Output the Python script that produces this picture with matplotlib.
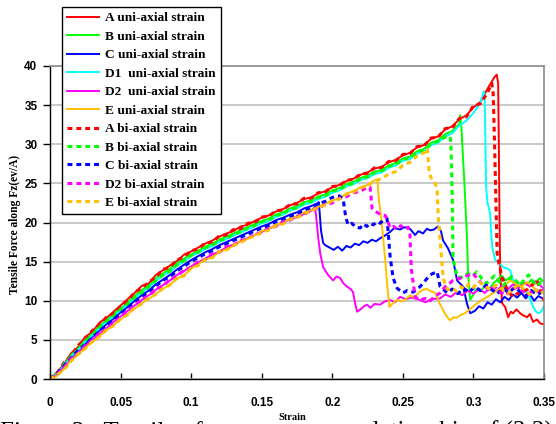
import numpy as np
import matplotlib
matplotlib.use('Agg')
import matplotlib.pyplot as plt

# Tensile force (eV/A) vs strain, (3,3) tubes A..E
# loading branch is sampled every 0.005 strain, the tail lists are (strain, force)
STRAIN_STEP = 0.005

A_UNI_RISE = [0.0, 0.9, 1.9, 3.3, 4.1, 5.4, 6.0, 7.2, 7.8, 8.6, 9.4, 10.2, 11.0, 11.9, 12.2, 13.3,
              13.9, 14.5, 15.1, 15.9, 16.3, 16.8, 17.3, 17.7, 18.2, 18.6, 18.9, 19.5, 19.7, 20.2,
              20.6, 20.9, 21.4, 21.7, 22.2, 22.5, 23.0, 23.2, 23.7, 24.0, 24.5, 24.8, 25.3, 25.6,
              26.1, 26.4, 26.9, 27.1, 27.7, 28.0, 28.6, 28.9, 29.6, 29.9, 30.7, 31.0, 31.9, 32.3,
              33.2, 33.7, 34.7, 35.4, 37.1, 38.6]
A_UNI_TAIL = [(0.3165, 38.9), (0.3175, 37.8), (0.318, 30.0), (0.3185, 20.0), (0.319, 13.5),
              (0.3203, 9.7), (0.3225, 9.2), (0.3246, 7.9), (0.3265, 8.6), (0.3281, 8.4),
              (0.3305, 8.9), (0.3331, 8.4), (0.3355, 8.1), (0.338, 7.9), (0.340, 8.3),
              (0.3423, 7.3), (0.345, 7.6), (0.3473, 7.1), (0.35, 7.0)]

B_UNI_RISE = [0.0, 0.8, 1.8, 3.1, 3.9, 5.0, 5.8, 6.8, 7.5, 8.3, 9.0, 9.8, 10.6, 11.4, 11.9, 12.9,
              13.5, 14.1, 14.8, 15.4, 15.9, 16.4, 16.9, 17.3, 17.8, 18.2, 18.6, 19.0, 19.4, 19.8,
              20.2, 20.5, 21.0, 21.3, 21.8, 22.1, 22.6, 22.8, 23.3, 23.6, 24.1, 24.4, 24.9, 25.2,
              25.7, 26.0, 26.5, 26.7, 27.3, 27.6, 28.2, 28.4, 29.1, 29.4, 30.2, 30.5, 31.3, 31.7,
              32.6]
B_UNI_TAIL = [(0.2906, 33.7), (0.2915, 32.2), (0.2927, 28.0), (0.2935, 25.4), (0.2955, 17.8),
              (0.2962, 13.5), (0.2977, 10.1), (0.300, 10.8), (0.302, 11.5), (0.305, 11.2),
              (0.308, 11.9), (0.311, 11.4), (0.314, 12.2), (0.317, 12.7), (0.320, 13.2),
              (0.323, 12.6), (0.326, 13.0), (0.329, 12.2), (0.332, 11.8), (0.335, 12.5),
              (0.338, 12.0), (0.341, 12.7), (0.344, 12.3), (0.347, 12.9), (0.35, 12.4)]

C_UNI_RISE = [0.0, 0.6, 1.8, 2.8, 3.6, 4.5, 5.4, 6.2, 7.0, 7.7, 8.5, 9.2, 10.0, 10.7, 11.3, 12.1,
              12.7, 13.3, 14.0, 14.6, 15.2, 15.7, 16.2, 16.6, 17.1, 17.5, 17.9, 18.3, 18.7, 19.1,
              19.5, 19.8, 20.3, 20.6, 21.0, 21.3, 21.8, 22.1, 22.5]
C_UNI_TAIL = [(0.1905, 22.6), (0.192, 19.0), (0.1935, 17.4), (0.195, 17.1), (0.198, 16.8),
              (0.201, 16.5), (0.204, 16.9), (0.207, 16.4), (0.210, 17.0), (0.213, 16.8),
              (0.216, 17.3), (0.219, 17.1), (0.222, 17.6), (0.225, 17.4), (0.228, 17.8),
              (0.231, 17.6), (0.234, 18.0), (0.237, 18.3), (0.241, 18.8), (0.244, 19.3),
              (0.248, 19.1), (0.251, 19.4), (0.255, 19.2), (0.2587, 18.4), (0.261, 18.9),
              (0.2643, 18.6), (0.267, 19.2), (0.2693, 19.0), (0.272, 19.1), (0.275, 19.5),
              (0.277, 18.9), (0.2785, 17.7), (0.282, 16.7), (0.2856, 15.2), (0.287, 13.9),
              (0.2884, 12.6), (0.2927, 11.8), (0.2955, 9.6), (0.2977, 8.4), (0.301, 8.7),
              (0.304, 9.3), (0.307, 9.0), (0.310, 9.8), (0.313, 9.5), (0.316, 10.2),
              (0.319, 9.8), (0.322, 10.5), (0.325, 10.1), (0.328, 10.8), (0.331, 10.4),
              (0.334, 11.0), (0.337, 10.3), (0.340, 10.8), (0.343, 10.0), (0.346, 10.6),
              (0.35, 10.2)]

D1_UNI_RISE = [0.0, 0.7, 1.7, 2.9, 3.7, 4.8, 5.6, 6.5, 7.3, 8.0, 8.8, 9.5, 10.4, 11.0, 11.7, 12.5,
               13.2, 13.7, 14.5, 15.0, 15.7, 16.1, 16.6, 17.0, 17.5, 17.9, 18.3, 18.7, 19.1, 19.5,
               19.9, 20.2, 20.7, 21.0, 21.5, 21.8, 22.3, 22.5, 23.0, 23.3, 23.8, 24.1, 24.6, 24.9,
               25.4, 25.7, 26.2, 26.4, 27.0, 27.3, 27.9, 28.1, 28.8, 29.1, 29.9, 30.2, 31.0, 31.4,
               32.4, 33.0, 34.0, 35.3]
D1_UNI_TAIL = [(0.3075, 36.8), (0.308, 35.6), (0.3085, 30.1), (0.309, 24.5), (0.310, 22.5),
               (0.3118, 21.2), (0.3125, 18.8), (0.3133, 16.9), (0.3154, 15.2), (0.318, 14.9),
               (0.321, 14.3), (0.324, 14.1), (0.326, 13.9), (0.3281, 12.6), (0.331, 12.4),
               (0.3331, 11.8), (0.336, 11.4), (0.338, 11.0), (0.340, 10.3), (0.3423, 9.2),
               (0.344, 8.7), (0.3459, 8.4), (0.348, 8.6), (0.35, 9.3)]

D2_UNI_RISE = [0.0, 0.5, 1.6, 2.5, 3.4, 4.2, 5.0, 5.8, 6.5, 7.3, 8.0, 8.7, 9.4, 10.1, 10.7, 11.4,
               12.0, 12.6, 13.3, 13.8, 14.4, 14.9, 15.4, 15.9, 16.3, 16.8, 17.2, 17.6, 18.0, 18.4,
               18.8, 19.2, 19.6, 20.0, 20.4, 20.7, 21.1, 21.5]
D2_UNI_TAIL = [(0.1878, 22.0), (0.189, 20.0), (0.190, 18.1), (0.1915, 16.0), (0.1935, 14.3),
               (0.197, 13.3), (0.2006, 12.6), (0.203, 13.1), (0.2055, 12.9), (0.208, 12.2),
               (0.2105, 11.8), (0.213, 11.5), (0.2147, 11.1), (0.216, 9.8), (0.2176, 8.6),
               (0.220, 8.9), (0.2225, 9.3), (0.2247, 9.5), (0.227, 9.1), (0.230, 9.6),
               (0.2339, 9.5), (0.237, 9.9), (0.241, 10.1), (0.2445, 9.8), (0.248, 10.5),
               (0.252, 10.2), (0.256, 10.4), (0.2622, 10.1), (0.266, 9.8), (0.270, 10.2),
               (0.2764, 10.3), (0.280, 10.8), (0.284, 10.5), (0.288, 11.1), (0.292, 10.7),
               (0.296, 11.3), (0.300, 10.9), (0.304, 11.5), (0.308, 11.0), (0.312, 11.7),
               (0.316, 11.2), (0.320, 11.9), (0.324, 11.4), (0.328, 12.1), (0.332, 11.6),
               (0.336, 12.3), (0.340, 11.8), (0.344, 12.5), (0.347, 12.0), (0.35, 11.5)]

E_UNI_RISE = [0.0, 0.4, 1.3, 2.4, 3.1, 4.0, 4.7, 5.5, 6.2, 6.9, 7.6, 8.3, 9.0, 9.7, 10.2, 10.9,
              11.5, 12.1, 12.8, 13.3, 14.1, 14.7, 15.2, 15.6, 16.2, 16.6, 17.0, 17.6, 17.9, 18.4,
              18.9, 19.2, 19.7, 20.0, 20.5, 20.8, 21.3, 21.6, 22.0, 22.4, 22.8, 23.1, 23.7, 24.0,
              24.5, 24.8, 25.4]
E_UNI_TAIL = [(0.232, 25.4), (0.233, 22.9), (0.2345, 20.8), (0.236, 18.1), (0.2375, 15.2),
              (0.239, 11.8), (0.2405, 9.2), (0.243, 9.7), (0.246, 10.1), (0.249, 9.9),
              (0.252, 10.2), (0.255, 10.7), (0.258, 10.4), (0.261, 11.0), (0.264, 11.4),
              (0.267, 11.5), (0.270, 11.2), (0.273, 11.0), (0.276, 9.7), (0.2785, 8.8),
              (0.281, 8.0), (0.2835, 7.5), (0.286, 7.9), (0.288, 7.8), (0.291, 8.2),
              (0.294, 8.4), (0.298, 9.0), (0.302, 9.6), (0.306, 10.1), (0.310, 10.5),
              (0.314, 11.0), (0.318, 11.4), (0.322, 11.9), (0.326, 12.6), (0.330, 12.2),
              (0.334, 11.8), (0.338, 12.4), (0.342, 11.8), (0.346, 11.2), (0.35, 11.4)]

A_BI_RISE = [0.0, 0.7, 2.1, 3.0, 4.3, 5.1, 6.2, 6.9, 7.9, 8.4, 9.3, 10.0, 11.1, 11.6, 12.4, 13.0,
             14.0, 14.3, 15.2, 15.6, 16.4, 16.6, 17.4, 17.5, 18.3, 18.4, 19.1, 19.2, 19.9, 20.0,
             20.7, 20.8, 21.5, 21.6, 22.3, 22.4, 23.1, 23.1, 23.8, 23.9, 24.6, 24.7, 25.4, 25.5,
             26.2, 26.3, 27.0, 27.0, 27.8, 27.9, 28.7, 28.8, 29.7, 29.8, 30.8, 30.9, 32.0, 32.1,
             33.3, 33.5, 34.9, 35.2, 36.6]
A_BI_TAIL = [(0.313, 37.8), (0.314, 36.5), (0.315, 30.0), (0.316, 22.0), (0.3168, 16.0),
             (0.318, 14.8), (0.3203, 13.0), (0.323, 11.8), (0.3255, 11.0), (0.3281, 10.5),
             (0.331, 10.9), (0.334, 11.2), (0.338, 11.4), (0.3415, 12.0), (0.3451, 12.6),
             (0.3475, 11.2), (0.35, 10.0)]

B_BI_RISE = [0.0, 0.6, 1.9, 2.9, 3.8, 4.9, 5.6, 6.6, 7.4, 8.0, 8.9, 9.6, 10.4, 11.1, 11.8, 12.6,
             13.3, 13.8, 14.6, 15.1, 15.8, 16.2, 16.8, 17.1, 17.7, 18.0, 18.5, 18.8, 19.3, 19.6,
             20.1, 20.3, 20.9, 21.1, 21.7, 21.9, 22.5, 22.7, 23.2, 23.4, 24.0, 24.2, 24.8, 25.0,
             25.6, 25.8, 26.4, 26.6, 27.2, 27.4, 28.1, 28.3, 29.0, 29.3, 30.0, 30.4, 30.9]
B_BI_TAIL = [(0.2835, 31.0), (0.284, 30.2), (0.2845, 27.0), (0.285, 23.0), (0.2853, 19.0),
             (0.2856, 15.2), (0.287, 14.3), (0.2884, 13.0), (0.2927, 13.0), (0.296, 13.5),
             (0.2995, 13.2), (0.3026, 13.7), (0.306, 12.8), (0.309, 12.2), (0.312, 12.7),
             (0.315, 13.2), (0.318, 12.5), (0.321, 11.9), (0.324, 12.5), (0.327, 13.1),
             (0.330, 12.6), (0.333, 12.0), (0.336, 12.7), (0.339, 13.3), (0.342, 12.5),
             (0.345, 11.9), (0.348, 12.4), (0.35, 12.1)]

C_BI_RISE = [0.0, 0.7, 1.7, 2.7, 3.7, 4.4, 5.3, 6.1, 6.9, 7.6, 8.4, 9.1, 9.9, 10.5, 11.2, 11.9,
             12.6, 13.1, 13.8, 14.4, 15.0, 15.5, 16.0, 16.4, 16.9, 17.3, 17.7, 18.1, 18.5, 18.9,
             19.3, 19.6, 20.1, 20.4, 20.8, 21.1, 21.6, 21.9, 22.4, 22.7, 23.2, 23.4]
C_BI_TAIL = [(0.2077, 23.0), (0.2095, 20.7), (0.2112, 19.7), (0.214, 19.9), (0.2165, 19.4),
             (0.2197, 19.3), (0.222, 19.8), (0.2245, 19.5), (0.2268, 19.9), (0.229, 19.7),
             (0.232, 20.1), (0.234, 19.9), (0.236, 20.3), (0.2388, 20.5), (0.2395, 19.0),
             (0.241, 15.6), (0.2431, 12.9), (0.2459, 11.6), (0.248, 11.3), (0.2502, 11.0),
             (0.253, 11.3), (0.2573, 11.1), (0.2622, 11.8), (0.265, 12.4), (0.2679, 13.0),
             (0.2693, 13.3), (0.2715, 13.5), (0.2743, 13.7), (0.2764, 11.8), (0.279, 11.4),
             (0.2814, 11.0), (0.285, 11.5), (0.289, 10.9), (0.293, 11.6), (0.297, 11.1),
             (0.301, 11.8), (0.305, 11.3), (0.309, 12.0), (0.313, 11.4), (0.317, 10.9),
             (0.321, 11.6), (0.325, 11.0), (0.329, 11.7), (0.333, 11.2), (0.337, 10.6),
             (0.341, 11.3), (0.345, 10.8), (0.35, 11.2)]

D2_BI_RISE = [0.0, 0.6, 1.5, 2.6, 3.3, 4.3, 4.9, 5.9, 6.4, 7.2, 7.9, 8.8, 9.3, 10.2, 10.6, 11.5,
              11.9, 12.7, 13.2, 13.9, 14.3, 15.0, 15.3, 16.0, 16.2, 16.9, 17.1, 17.7, 17.9, 18.5,
              18.7, 19.3, 19.5, 20.1, 20.3, 20.8, 21.0, 21.6, 21.8, 22.3, 22.5, 23.1, 23.3, 23.8,
              24.0, 24.5]
D2_BI_TAIL = [(0.2268, 24.5), (0.2282, 21.8), (0.230, 21.5), (0.2317, 21.3), (0.234, 21.0),
              (0.2374, 20.9), (0.2388, 20.5), (0.240, 19.8), (0.241, 19.3), (0.2435, 19.5),
              (0.246, 19.1), (0.2485, 19.6), (0.251, 19.2), (0.2537, 19.4), (0.255, 18.6),
              (0.256, 14.0), (0.2587, 10.5), (0.2622, 10.1), (0.266, 10.3), (0.2693, 10.0),
              (0.273, 10.6), (0.2764, 11.0), (0.280, 11.8), (0.2856, 12.6), (0.2927, 13.0),
              (0.2998, 13.5), (0.303, 12.7), (0.307, 12.0), (0.311, 11.4), (0.315, 11.8),
              (0.319, 11.1), (0.323, 10.7), (0.327, 11.3), (0.331, 11.8), (0.335, 11.2),
              (0.339, 10.8), (0.343, 11.5), (0.347, 11.0), (0.35, 11.4)]

E_BI_RISE = [0.0, 0.5, 1.2, 2.3, 3.2, 3.9, 4.8, 5.4, 6.3, 6.8, 7.7, 8.2, 9.1, 9.6, 10.4, 10.8,
             11.6, 12.0, 12.9, 13.2, 14.2, 14.5, 15.3, 15.5, 16.3, 16.5, 17.1, 17.4, 18.0, 18.2,
             18.8, 19.0, 19.6, 19.8, 20.4, 20.6, 21.2, 21.4, 22.0, 22.2, 22.8, 23.0, 23.6, 23.9,
             24.4, 24.7, 25.3, 25.6, 26.2, 26.5, 27.3, 27.7, 28.5, 28.9]
E_BI_TAIL = [(0.2672, 29.5), (0.268, 28.0), (0.2687, 26.3), (0.2707, 25.4), (0.2729, 25.0),
             (0.2743, 24.2), (0.275, 21.0), (0.2765, 17.5), (0.2785, 13.0), (0.280, 12.0),
             (0.282, 11.4), (0.285, 11.6), (0.288, 11.2), (0.291, 11.8), (0.294, 11.5),
             (0.297, 12.2), (0.300, 11.7), (0.304, 12.4), (0.308, 11.9), (0.312, 11.4),
             (0.316, 12.0), (0.320, 11.5), (0.324, 10.9), (0.328, 11.5), (0.332, 12.1),
             (0.336, 11.4), (0.340, 10.8), (0.344, 11.4), (0.347, 10.9), (0.35, 11.2)]

X_TICKS = [0, 0.05, 0.1, 0.15, 0.2, 0.25, 0.3, 0.35]
X_TICK_LABELS = ['0', '0.05', '0.1', '0.15', '0.2', '0.25', '0.3', '0.35']
Y_TICKS = [0, 5, 10, 15, 20, 25, 30, 35, 40]

RED, GREEN, BLUE = '#ff0000', '#00ff00', '#0000ff'
CYAN, MAGENTA, GOLD = '#00ffff', '#ff00ff', '#ffc000'

SERIES = [
    ('A uni-axial strain', RED, '-', A_UNI_RISE, A_UNI_TAIL),
    ('B uni-axial strain', GREEN, '-', B_UNI_RISE, B_UNI_TAIL),
    ('C uni-axial strain', BLUE, '-', C_UNI_RISE, C_UNI_TAIL),
    ('D1  uni-axial strain', CYAN, '-', D1_UNI_RISE, D1_UNI_TAIL),
    ('D2  uni-axial strain', MAGENTA, '-', D2_UNI_RISE, D2_UNI_TAIL),
    ('E uni-axial strain', GOLD, '-', E_UNI_RISE, E_UNI_TAIL),
    ('A bi-axial strain', RED, '--', A_BI_RISE, A_BI_TAIL),
    ('B bi-axial strain', GREEN, '--', B_BI_RISE, B_BI_TAIL),
    ('C bi-axial strain', BLUE, '--', C_BI_RISE, C_BI_TAIL),
    ('D2 bi-axial strain', MAGENTA, '--', D2_BI_RISE, D2_BI_TAIL),
    ('E bi-axial strain', GOLD, '--', E_BI_RISE, E_BI_TAIL),
]

# paper caption under the chart, only the top of it is in the frame
CAPTION_LEFT = 'Figure 3:  Tensile   for'
CAPTION_RIGHT = 'relationship of (3,3)'


def full_curve(rise, tail):
    xs = [i * STRAIN_STEP for i in range(len(rise))] + [p[0] for p in tail]
    ys = list(rise) + [p[1] for p in tail]
    return xs, ys


fig = plt.figure(figsize=(5.56, 4.24), dpi=100)
ax = fig.add_axes([50 / 556, 45 / 424, 494 / 556, 313 / 424])

handles = []
for label, color, style, rise, tail in SERIES:
    xs, ys = full_curve(rise, tail)
    if style == '-':
        ln, = ax.plot(xs, ys, color=color, lw=1.4, label=label)
    else:
        ln, = ax.plot(xs, ys, color=color, lw=2.2, linestyle=(0, (1.6, 1.3)), label=label)
    handles.append(ln)

ax.set_xlim(0, 0.35)
ax.set_ylim(0, 40)
ax.set_xticks(X_TICKS)
ax.set_xticklabels(X_TICK_LABELS)
ax.set_yticks(Y_TICKS)
ax.set_yticklabels([str(v) for v in Y_TICKS])

for lab in ax.get_xticklabels() + ax.get_yticklabels():
    lab.set_fontfamily('Liberation Sans')
    lab.set_fontweight('bold')
    lab.set_fontsize(8.5)

ax.tick_params(axis='x', direction='in', length=4, width=1, pad=13, colors='black')
ax.tick_params(axis='y', direction='out', length=5, width=1, pad=4, colors='black')

ax.yaxis.grid(True, color='#c0c0c0', lw=1.2)
ax.set_axisbelow(True)
for side in ['left', 'bottom']:
    ax.spines[side].set_color('black')
    ax.spines[side].set_linewidth(1.0)
for side in ['top', 'right']:
    ax.spines[side].set_color('#8c8c8c')
    ax.spines[side].set_linewidth(1.2)

fig.text(15 / 556, 1 - 224 / 424, 'Tensile Force along Fz(ev/A)', rotation=90,
         ha='center', va='center', family='Liberation Serif', weight='bold', fontsize=8.3)

cap = dict(family='Liberation Serif', fontsize=18, va='baseline', color='black')
fig.text(0.0, -15 / 424, CAPTION_LEFT, **cap)
fig.text(553 / 556, -15 / 424, CAPTION_RIGHT, ha='right', **cap)

fig.text(292 / 556, 1 - 418 / 424, 'Strain', ha='center', va='center',
         family='Liberation Serif', weight='bold', fontsize=7.5, zorder=5,
         bbox=dict(facecolor='white', edgecolor='none', pad=3))

leg = fig.legend(handles, [s[0] for s in SERIES], loc='upper left',
                 bbox_to_anchor=(62 / 556, 1 - 7 / 424), borderaxespad=0,
                 frameon=True, fancybox=False, framealpha=1, edgecolor='black',
                 prop=dict(family='Liberation Serif', weight='bold', size=9.6),
                 handlelength=2.4, handletextpad=0.45, labelspacing=0.46, borderpad=0.38)
leg.get_frame().set_linewidth(1.0)

fig.savefig('out.png', dpi=100)
